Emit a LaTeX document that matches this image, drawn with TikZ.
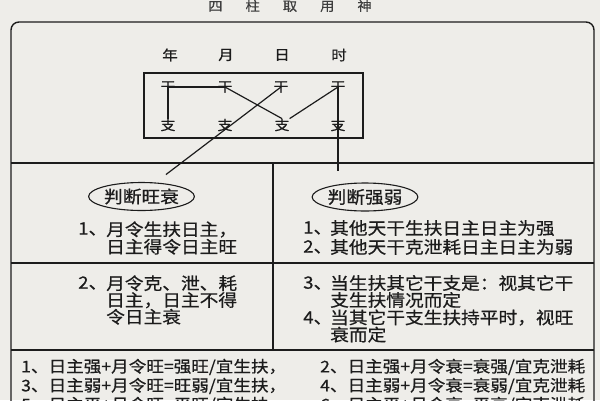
\documentclass[tikz,border=0pt]{standalone}
\usepackage{fontspec}
\usetikzlibrary{shapes.geometric}
\newfontfamily\cjk[FakeStretch=1.1, FakeBold=0.6]{Noto Sans CJK SC}
\definecolor{paper}{HTML}{EEEDE9}
\definecolor{ink}{HTML}{1C1C1C}
\tikzstyle{frame} = [draw=ink, line width=1.4pt]
\tikzstyle{link} = [draw=ink, line width=1.2pt]
\tikzstyle{zhu} = [inner sep=0pt, font=\cjk\fontsize{13.5}{13.5}\selectfont]
\tikzstyle{judge} = [ellipse, draw=ink, line width=1.1pt, minimum width=97pt, minimum height=28pt, inner sep=0pt, font=\cjk\fontsize{17}{17}\selectfont]
\tikzstyle{rule} = [anchor=west, align=left, inner sep=0pt, font=\cjk\fontsize{17}{17.5}\selectfont]
\tikzstyle{sumline} = [anchor=west, align=left, inner sep=0pt, font=\cjk\fontsize{16}{19}\selectfont]

\begin{document}
\begin{tikzpicture}[x=1pt, y=-1pt, text=ink]
	\useasboundingbox (0,0) rectangle (600,400);
	\clip (0,0) rectangle (600,400);
	\fill[paper] (0,0) rectangle (600,400);

	\node[inner sep=0pt, font=\cjk\fontsize{13}{13}\selectfont, text=ink!85] (title) at (290,6) {四\hspace{23pt}柱\hspace{23pt}取\hspace{23pt}用\hspace{23pt}神};

	% frame and table
	\draw[frame, rounded corners=8pt] (11,430) -- (11,22) -- (594,22) -- (594,430);
	\draw[frame] (11,163) -- (594,163);
	\draw[frame] (11,263) -- (594,263);
	\draw[frame] (11,350) -- (594,350);
	\draw[frame] (273,163) -- (273,350);

	% four pillars
	\node[zhu, font=\cjk\fontsize{14}{14}\selectfont] (nian) at (170,55) {年};
	\node[zhu, font=\cjk\fontsize{14}{14}\selectfont] (yue) at (226,55) {月};
	\node[zhu, font=\cjk\fontsize{14}{14}\selectfont] (ri) at (282,55) {日};
	\node[zhu, font=\cjk\fontsize{14}{14}\selectfont] (shi) at (339,55) {时};
	\draw[link] (144,73) rectangle (363,138);
	\node[zhu] (g1) at (168,87) {干};
	\node[zhu] (g2) at (225,87) {干};
	\node[zhu] (g3) at (281,87) {干};
	\node[zhu] (g4) at (338,87) {干};
	\node[zhu] (z1) at (168,125) {支};
	\node[zhu] (z2) at (225,125) {支};
	\node[zhu] (z3) at (282,125) {支};
	\node[zhu] (z4) at (338,125) {支};

	\node[judge] (ws) at (141.5,196.5) {判断旺衰};
	\node[judge] (qr) at (365,197) {判断强弱};

	\draw[link] (g1.center) -- (g2.center);
	\draw[link] (g1.center) -- (z1.north);
	\draw[link] (g2.center) -- (z3.north);
	\draw[link] (g4.center) -- (z3.north east);
	\draw[link, shorten >=13pt] (g3.center) -- (ws.45);
	\draw[link, shorten >=11pt] (g4.center) -- (g4 |- qr.north);

	% left column
	\node[rule] (n1) at (78,229) {1、};
	\node[rule] (t1) at (106,238) {月令生扶日主，\\日主得令日主旺};
	\node[rule] (n2) at (78,283) {2、};
	\node[rule, font=\cjk\fontsize{17}{16.8}\selectfont] (t2) at (106,300) {月令克、泄、耗\\日主，日主不得\\令日主衰};

	% right column
	\node[rule, font=\cjk\fontsize{17}{19}\selectfont] (n3) at (303,237.5) {1、\\2、};
	\node[rule, font=\cjk\fontsize{17}{19}\selectfont] (t3) at (330,237.5) {其他天干生扶日主日主为强\\其他天干克泄耗日主日主为弱};
	\node[rule] (n4) at (303,283) {3、};
	\node[rule, font=\cjk\fontsize{17}{17}\selectfont] (t4) at (330,291.5) {当生扶其它干支是：视其它干\\支生扶情况而定};
	\node[rule] (n5) at (303,318) {4、};
	\node[rule, font=\cjk\fontsize{17}{16}\selectfont] (t5) at (330,326) {当其它干支生扶持平时，视旺\\衰而定};

	% summary
	\node[sumline] (s1) at (21,386) {1、日主强+月令旺=强旺/宜生扶，\\3、日主弱+月令旺=旺弱/宜生扶，\\5、日主平+月令旺=平旺/宜生扶，};
	\node[sumline] (s2) at (320,386) {2、日主强+月令衰=衰强/宜克泄耗\\4、日主弱+月令衰=衰弱/宜克泄耗\\6、日主平+月令衰=平衰/宜克泄耗};
\end{tikzpicture}
\end{document}
